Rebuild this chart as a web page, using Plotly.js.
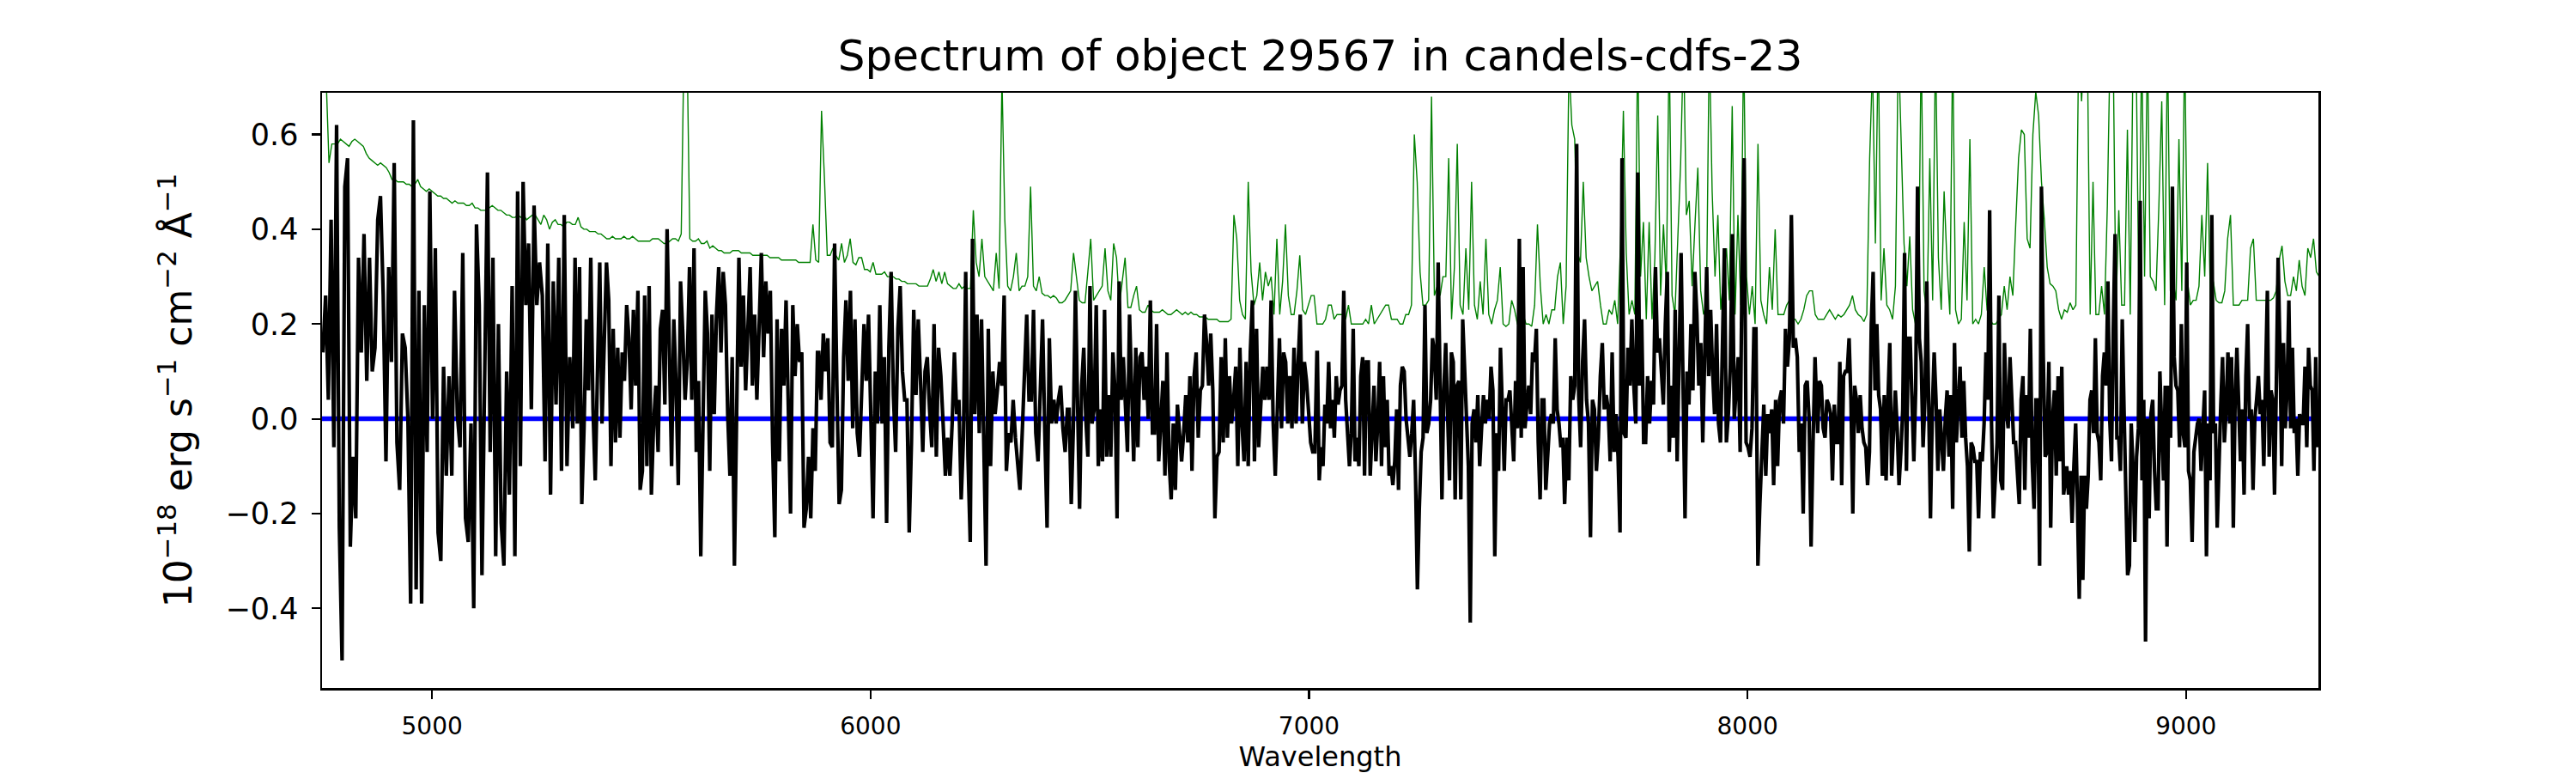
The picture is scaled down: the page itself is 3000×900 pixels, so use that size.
<!DOCTYPE html>
<html>
<head>
<meta charset="utf-8">
<title>Spectrum of object 29567</title>
<script src="https://cdn.plot.ly/plotly-3.0.1.min.js"></script>
<style>
    body { margin: 0; background: #fff; }
    #spectrum { width: 3000px; height: 900px; }
</style>
</head>
<body>
<div id="spectrum"></div>
<script>
// object spectrum in 8 chunks; each chunk spans segStart..segEnd (Angstrom)
var segStart = [4751, 5321, 5882, 6453, 7019, 7588, 8160, 8728];
var segEnd   = [5314, 5879, 6449, 7018, 7583, 8154, 8721, 9300];

var flux1 = [0.14, 0.26, 0.04, 0.42, -0.06, 0.62, -0.23, -0.51, 0.49, 0.55,
    -0.27, -0.08, -0.21, 0.34, 0.14, 0.39, 0.08, 0.34, 0.10, 0.15,
    0.42, 0.47, 0.26, -0.09, 0.32, 0.12, 0.54, -0.05, -0.15, 0.18,
    0.15, 0.00, -0.39, 0.63, -0.36, 0.27, -0.39, 0.24, -0.07, 0.48,
    0.00, 0.36, -0.24, -0.30, 0.11, -0.12, 0.09, -0.12, 0.27, 0.01,
    -0.06, 0.35, -0.21, -0.26, -0.01, -0.40, 0.41, 0.24, -0.33, 0.14,
    0.52, -0.07, 0.34, -0.29, 0.20, -0.22, -0.31, 0.10, -0.16, 0.28,
    -0.29, 0.48, -0.10, 0.50, 0.24, 0.37, 0.02, 0.45, 0.24, 0.33,
    0.26, -0.09, 0.37, -0.16, 0.29, 0.03, 0.34, -0.11, 0.43, -0.10,
    0.13];

var flux2 = [-0.02, 0.34, -0.01, 0.32, -0.18, -0.02, 0.21, 0.06, 0.34, 0.02,
    -0.13, 0.12, 0.33, -0.01, 0.17, 0.33, 0.25, -0.10, 0.19, -0.05,
    0.15, -0.04, 0.14, 0.08, 0.24, 0.17, 0.02, 0.23, 0.07, 0.27,
    -0.15, -0.11, 0.26, -0.10, 0.28, -0.16, -0.01, 0.07, -0.07, 0.19,
    0.23, 0.03, 0.40, 0.10, -0.10, 0.21, 0.07, -0.14, 0.29, 0.18,
    0.04, 0.12, 0.32, 0.04, 0.36, -0.07, 0.08, -0.29, -0.01, 0.27,
    0.18, -0.11, 0.22, 0.01, 0.22, 0.32, 0.14, 0.31, 0.24, 0.01,
    -0.12, 0.13, -0.31, 0.01, 0.34, 0.11, 0.26, 0.06, 0.22, 0.32,
    0.07, 0.22, 0.04, 0.20, 0.35, 0.13, 0.29, 0.18, 0.27, -0.05,
    -0.25, 0.21, -0.09, 0.19, 0.07, 0.25, 0.04, -0.20, 0.24, 0.09,
    0.20, 0.12, 0.14, -0.23, -0.19, -0.08, -0.21, -0.02, -0.11, 0.14];

var flux3 = [0.14, 0.04, 0.18, 0.10, 0.17, -0.05, -0.06, 0.37, 0.07, -0.18,
    -0.15, 0.13, 0.25, 0.08, 0.27, -0.02, 0.21, -0.03, -0.08, 0.09,
    0.20, 0.08, 0.22, 0.01, -0.21, 0.10, -0.01, 0.24, -0.01, 0.13,
    -0.22, 0.15, 0.31, 0.05, -0.07, 0.19, 0.28, 0.10, 0.04, 0.04,
    -0.24, -0.05, 0.23, 0.05, 0.21, 0.08, -0.07, 0.10, 0.13, 0.02,
    -0.06, 0.20, -0.08, 0.15, 0.09, -0.01, -0.12, -0.04, -0.12, -0.01,
    0.14, 0.01, 0.04, -0.17, -0.04, 0.31, -0.08, -0.26, 0.38, 0.01,
    0.22, -0.03, 0.21, -0.05, -0.31, 0.19, -0.10, 0.10, 0.01, 0.06,
    0.12, 0.07, 0.26, -0.11, -0.03, -0.05, 0.04, -0.04, -0.10, -0.15,
    -0.03, 0.12, 0.22, 0.04, 0.04, 0.23, -0.03, -0.09, 0.08, 0.21,
    -0.03, -0.23, 0.17, -0.01, 0.04, -0.01, 0.04, 0.07, -0.02, -0.07,
    0.02];

var flux4 = [0.02, -0.18, -0.02, 0.27, 0.02, -0.19, 0.07, 0.15, 0.00, -0.08,
    0.28, -0.01, 0.02, 0.24, -0.10, 0.02, -0.09, 0.23, -0.08, 0.05,
    -0.08, 0.14, 0.06, -0.21, 0.29, 0.04, 0.13, 0.04, -0.07, 0.22,
    0.04, -0.09, 0.15, -0.06, 0.13, 0.14, 0.04, 0.11, 0.00, 0.25,
    -0.03, -0.03, 0.20, -0.09, -0.01, 0.08, -0.12, 0.14, -0.09, -0.17,
    -0.01, -0.15, 0.03, -0.02, -0.09, -0.03, 0.05, -0.05, 0.09, -0.11,
    0.09, 0.14, -0.04, 0.06, 0.07, 0.22, 0.16, 0.07, 0.18, 0.06,
    -0.21, -0.08, -0.07, 0.13, -0.05, 0.17, -0.04, 0.09, -0.01, 0.04,
    0.11, -0.10, 0.15, -0.01, -0.09, 0.12, -0.10, 0.14, 0.25, -0.09,
    0.19, -0.06, 0.01, 0.11, 0.04, 0.11, 0.04, 0.25, -0.01, -0.12,
    0.02, 0.17, -0.02, 0.14, 0.12, -0.01, 0.09, -0.02, 0.15, -0.01,
    0.12, 0.22, -0.01, 0.12, 0.08, 0.01, -0.05, -0.07, -0.07, 0.14];

var flux5 = [0.14, -0.13, -0.06, -0.10, 0.03, -0.01, 0.12, -0.02, 0.04, -0.04,
    0.09, 0.03, 0.06, 0.07, 0.27, 0.04, -0.02, -0.10, -0.03, 0.19,
    -0.09, -0.04, -0.10, 0.09, 0.13, -0.12, 0.12, 0.12, -0.12, -0.04,
    0.07, -0.09, -0.01, 0.12, -0.10, 0.09, -0.06, 0.04, -0.12, -0.10,
    -0.14, -0.09, 0.02, -0.15, 0.07, 0.11, 0.10, 0.00, -0.04, -0.08,
    -0.03, 0.04, -0.12, -0.36, -0.19, -0.07, -0.04, 0.24, -0.03, -0.01,
    0.04, 0.17, 0.14, 0.04, 0.33, 0.05, -0.17, 0.06, 0.16, 0.01,
    -0.13, 0.14, 0.12, -0.17, 0.07, 0.08, -0.17, 0.21, 0.09, -0.01,
    -0.10, -0.43, -0.01, 0.02, -0.05, 0.05, -0.10, -0.02, 0.05, -0.01,
    0.04, 0.00, 0.11, 0.06, -0.29, -0.03, -0.11, 0.15, 0.03, -0.11,
    0.04, 0.04, 0.06, -0.03, -0.09, 0.08, -0.02, 0.38, -0.04, 0.32,
    -0.02, 0.03, 0.07, 0.01, 0.14, 0.12, 0.19, -0.05, -0.17, 0.04,
    0.04, -0.15, -0.06, -0.01, 0.01, -0.01, 0.17, 0.02, -0.01, -0.06,
    -0.04, -0.18];

var flux6 = [-0.04, -0.13, 0.09, 0.04, 0.07, 0.58, 0.05, -0.06, 0.12, 0.21,
    0.04, -0.01, -0.25, 0.04, 0.02, -0.11, -0.04, 0.09, 0.16, 0.02,
    0.05, 0.02, -0.09, 0.14, -0.07, 0.01, -0.08, -0.24, 0.55, -0.03,
    -0.04, 0.15, 0.07, 0.21, 0.07, -0.01, 0.52, 0.07, 0.21, -0.05,
    -0.05, 0.09, -0.01, 0.08, 0.03, 0.32, 0.14, 0.17, 0.10, 0.03,
    0.20, 0.31, -0.07, 0.07, -0.04, 0.23, -0.09, 0.12, 0.35, 0.07,
    -0.21, 0.10, 0.03, 0.20, 0.06, 0.31, 0.22, 0.07, 0.16, -0.05,
    0.15, 0.32, 0.09, 0.23, 0.10, 0.01, 0.20, -0.01, -0.05, 0.12,
    0.36, -0.05, 0.01, 0.11, 0.39, 0.00, 0.08, 0.13, -0.07, 0.34,
    0.55, -0.05, -0.06, -0.08, -0.02, 0.19, 0.19, -0.31, -0.18, -0.06,
    0.03, -0.12, 0.01, -0.03, 0.02, -0.14, 0.04, -0.10, 0.04, 0.06,
    -0.01, 0.19, 0.11, 0.17, 0.43, 0.15, 0.17, 0.13, -0.07, -0.01,
    -0.20, 0.07, 0.08, 0.00, -0.27, -0.05, 0.13];

var flux7 = [-0.03, 0.08, 0.07, -0.02, -0.04, 0.04, 0.03, 0.01, -0.13, 0.03,
    -0.05, -0.05, 0.12, -0.14, 0.09, 0.10, 0.10, 0.17, 0.04, -0.20,
    0.07, 0.04, -0.03, 0.05, -0.02, -0.05, -0.06, -0.14, -0.07, 0.20,
    0.31, 0.06, 0.20, 0.05, 0.02, -0.12, 0.05, -0.13, 0.04, 0.16,
    -0.12, -0.01, 0.06, -0.02, -0.14, -0.07, 0.02, 0.35, -0.11, 0.17,
    0.17, 0.04, -0.09, 0.06, 0.49, 0.17, 0.12, -0.06, 0.04, 0.29,
    0.00, -0.21, 0.02, 0.14, 0.04, -0.11, 0.02, -0.06, -0.11, 0.00,
    0.06, -0.08, 0.05, -0.19, 0.16, -0.05, 0.04, 0.11, -0.04, 0.08,
    -0.04, -0.10, -0.28, -0.05, -0.06, -0.09, -0.09, -0.21, -0.07, -0.09,
    -0.01, 0.14, 0.04, 0.44, -0.01, -0.21, -0.13, -0.05, 0.26, -0.13,
    -0.15, 0.16, 0.02, -0.02, 0.13, 0.04, -0.05, -0.05, -0.12, -0.18,
    0.04, 0.09, -0.15, 0.05, -0.04, 0.19, -0.09, -0.19, 0.04, 0.04,
    -0.31, 0.49, 0.13, -0.08, -0.07, 0.12, -0.23, 0.00, 0.06, -0.12,
    0.09, -0.09, 0.11, -0.16];

var flux8 = [-0.10, -0.16, -0.11, -0.22, -0.10, -0.01, -0.18, -0.38, -0.12, -0.34,
    -0.12, -0.19, -0.12, 0.04, 0.06, -0.03, 0.17, -0.03, -0.05, -0.13,
    0.09, 0.14, 0.07, 0.29, 0.00, -0.09, 0.19, 0.39, -0.04, -0.04,
    -0.11, 0.21, 0.02, -0.19, -0.33, -0.31, -0.01, -0.10, -0.26, -0.08,
    -0.02, 0.46, -0.13, 0.04, -0.47, 0.00, -0.21, 0.01, 0.04, -0.11,
    -0.19, -0.19, 0.10, -0.02, -0.13, 0.07, -0.27, 0.07, -0.04, 0.49,
    0.13, 0.07, 0.06, -0.06, 0.20, -0.03, -0.06, 0.33, -0.11, -0.13,
    -0.26, -0.07, -0.04, -0.01, 0.00, -0.11, -0.02, 0.06, -0.29, -0.01,
    -0.13, 0.43, -0.03, -0.01, -0.23, -0.06, 0.03, 0.13, -0.05, 0.02,
    0.14, -0.01, 0.13, -0.23, 0.04, 0.15, -0.01, -0.09, 0.02, -0.16,
    0.09, 0.20, 0.00, 0.02, -0.15, 0.00, 0.04, 0.09, 0.01, 0.04,
    -0.10, 0.05, 0.27, -0.08, 0.06, 0.04, -0.16, 0.07, 0.34, 0.15,
    -0.10, 0.16, -0.02, 0.06, 0.25, -0.02, 0.15, -0.03, 0.00, -0.12,
    0.01, -0.01, -0.01, 0.11, -0.06, 0.15, 0.07, 0.06, -0.11, 0.13,
    -0.06];

// green curve (noise / sky), sampled on a regular grid from skyStart every skyStep Angstrom
var skyStart = 4738.8;
var skyStep = 6.531;
var skyFlux = [
    // 4739 - 5301
    0.80, 0.80, 0.78, 0.72, 0.54, 0.58, 0.58, 0.58, 0.59, 0.585,
    0.58, 0.575, 0.585, 0.59, 0.585, 0.58, 0.575, 0.56, 0.55, 0.545,
    0.54, 0.535, 0.54, 0.535, 0.53, 0.52, 0.505, 0.505, 0.50, 0.50,
    0.50, 0.495, 0.495, 0.49, 0.495, 0.505, 0.49, 0.485, 0.48, 0.485,
    0.48, 0.475, 0.47, 0.47, 0.465, 0.465, 0.46, 0.455, 0.46, 0.455,
    0.455, 0.455, 0.45, 0.45, 0.455, 0.445, 0.445, 0.44, 0.44, 0.44,
    0.445, 0.45, 0.445, 0.44, 0.44, 0.435, 0.43, 0.43, 0.425, 0.425,
    0.43, 0.425, 0.43, 0.42, 0.425, 0.43, 0.43, 0.42, 0.41, 0.43,
    0.42, 0.40, 0.415, 0.42, 0.41, 0.41, 0.405,
    // 5307 - 5869
    0.415, 0.415, 0.41, 0.41, 0.425, 0.405, 0.40, 0.40, 0.395, 0.395,
    0.395, 0.39, 0.39, 0.385, 0.38, 0.38, 0.385, 0.38, 0.38, 0.38,
    0.385, 0.38, 0.38, 0.385, 0.38, 0.375, 0.375, 0.375, 0.375, 0.375,
    0.38, 0.38, 0.38, 0.375, 0.37, 0.37, 0.375, 0.38, 0.38, 0.375,
    0.39, 0.80, 0.80, 0.38, 0.375, 0.375, 0.38, 0.37, 0.37, 0.375,
    0.36, 0.365, 0.36, 0.355, 0.355, 0.35, 0.35, 0.35, 0.355, 0.355,
    0.355, 0.35, 0.35, 0.35, 0.35, 0.345, 0.345, 0.345, 0.345, 0.345,
    0.345, 0.34, 0.34, 0.34, 0.34, 0.335, 0.335, 0.335, 0.335, 0.335,
    0.335, 0.33, 0.33, 0.33, 0.33, 0.33, 0.41,
    // 5875 - 6437
    0.335, 0.33, 0.65, 0.51, 0.345, 0.345, 0.36, 0.345, 0.335, 0.37,
    0.33, 0.345, 0.38, 0.33, 0.325, 0.34, 0.34, 0.315, 0.315, 0.31,
    0.33, 0.305, 0.305, 0.305, 0.31, 0.30, 0.30, 0.30, 0.295, 0.295,
    0.29, 0.29, 0.285, 0.285, 0.285, 0.285, 0.28, 0.28, 0.28, 0.28,
    0.295, 0.315, 0.29, 0.31, 0.285, 0.31, 0.285, 0.28, 0.275, 0.275,
    0.285, 0.275, 0.28, 0.275, 0.275, 0.44, 0.33, 0.30, 0.38, 0.30,
    0.29, 0.28, 0.27, 0.35, 0.275, 0.72, 0.42, 0.28, 0.27, 0.30,
    0.35, 0.27, 0.28, 0.28, 0.30, 0.49, 0.28, 0.27, 0.30, 0.265,
    0.26, 0.26, 0.255, 0.26, 0.255, 0.245, 0.245,
    // 6443 - 7005
    0.25, 0.26, 0.27, 0.35, 0.30, 0.25, 0.245, 0.245, 0.31, 0.38,
    0.25, 0.26, 0.27, 0.28, 0.36, 0.27, 0.25, 0.37, 0.34, 0.24,
    0.29, 0.34, 0.235, 0.235, 0.26, 0.28, 0.23, 0.225, 0.225, 0.24,
    0.23, 0.225, 0.225, 0.225, 0.23, 0.225, 0.22, 0.22, 0.225, 0.23,
    0.225, 0.22, 0.225, 0.22, 0.225, 0.22, 0.22, 0.215, 0.215, 0.215,
    0.21, 0.21, 0.21, 0.21, 0.205, 0.205, 0.205, 0.205, 0.21, 0.43,
    0.38, 0.25, 0.22, 0.21, 0.50, 0.31, 0.24, 0.26, 0.33, 0.25,
    0.31, 0.28, 0.30, 0.22, 0.38, 0.22, 0.29, 0.41, 0.26, 0.22,
    0.22, 0.27, 0.345, 0.23, 0.22, 0.24, 0.26,
    // 7012 - 7573
    0.26, 0.20, 0.20, 0.20, 0.21, 0.24, 0.24, 0.21, 0.22, 0.22,
    0.22, 0.21, 0.24, 0.20, 0.20, 0.20, 0.20, 0.20, 0.21, 0.20,
    0.24, 0.20, 0.21, 0.22, 0.23, 0.24, 0.24, 0.21, 0.21, 0.21,
    0.20, 0.20, 0.22, 0.22, 0.24, 0.60, 0.50, 0.31, 0.24, 0.24,
    0.25, 0.68, 0.26, 0.28, 0.26, 0.30, 0.30, 0.55, 0.21, 0.32,
    0.58, 0.24, 0.22, 0.36, 0.23, 0.50, 0.24, 0.21, 0.29, 0.22,
    0.38, 0.22, 0.20, 0.23, 0.25, 0.32, 0.20, 0.195, 0.20, 0.25,
    0.23, 0.20, 0.20, 0.22, 0.20, 0.20, 0.195, 0.24, 0.41, 0.28,
    0.20, 0.22, 0.20, 0.23, 0.23, 0.30, 0.33,
    // 7580 - 8142
    0.20, 0.28, 0.75, 0.62, 0.59, 0.35, 0.33, 0.50, 0.34, 0.30,
    0.27, 0.28, 0.29, 0.24, 0.20, 0.20, 0.23, 0.22, 0.25, 0.20,
    0.37, 0.65, 0.35, 0.22, 0.25, 0.22, 0.80, 0.30, 0.415, 0.21,
    0.415, 0.21, 0.34, 0.64, 0.26, 0.41, 0.28, 0.80, 0.26, 0.22,
    0.385, 0.54, 0.80, 0.43, 0.46, 0.28, 0.41, 0.53, 0.27, 0.22,
    0.24, 0.80, 0.48, 0.30, 0.43, 0.23, 0.30, 0.36, 0.25, 0.66,
    0.22, 0.43, 0.24, 0.80, 0.30, 0.22, 0.28, 0.20, 0.58, 0.25,
    0.22, 0.20, 0.32, 0.23, 0.40, 0.22, 0.22, 0.22, 0.24, 0.25,
    0.21, 0.21, 0.20, 0.21, 0.23, 0.26, 0.27,
    // 8148 - 8710
    0.27, 0.22, 0.21, 0.21, 0.21, 0.22, 0.23, 0.22, 0.21, 0.22,
    0.215, 0.22, 0.23, 0.24, 0.26, 0.23, 0.22, 0.215, 0.205, 0.22,
    0.55, 0.75, 0.37, 0.80, 0.25, 0.36, 0.24, 0.23, 0.21, 0.28,
    0.80, 0.59, 0.37, 0.28, 0.385, 0.23, 0.20, 0.22, 0.80, 0.27,
    0.22, 0.55, 0.25, 0.80, 0.34, 0.23, 0.48, 0.33, 0.22, 0.80,
    0.23, 0.20, 0.21, 0.415, 0.25, 0.59, 0.20, 0.21, 0.20, 0.22,
    0.32, 0.23, 0.21, 0.20, 0.20, 0.21, 0.22, 0.28, 0.23, 0.30,
    0.26, 0.41, 0.55, 0.61, 0.60, 0.38, 0.36, 0.60, 0.69, 0.64,
    0.50, 0.42, 0.32, 0.285, 0.28, 0.27, 0.23,
    // 8716 - 9304
    0.21, 0.23, 0.225, 0.245, 0.23, 0.24, 0.80, 0.67, 0.80, 0.80,
    0.22, 0.50, 0.22, 0.22, 0.28, 0.22, 0.45, 0.80, 0.80, 0.23,
    0.44, 0.24, 0.24, 0.61, 0.22, 0.80, 0.80, 0.25, 0.80, 0.30,
    0.80, 0.30, 0.29, 0.27, 0.45, 0.67, 0.24, 0.80, 0.27, 0.29,
    0.25, 0.59, 0.27, 0.80, 0.29, 0.24, 0.25, 0.25, 0.28, 0.43,
    0.30, 0.54, 0.25, 0.29, 0.25, 0.245, 0.245, 0.27, 0.38, 0.43,
    0.24, 0.24, 0.24, 0.25, 0.25, 0.25, 0.36, 0.38, 0.25, 0.25,
    0.25, 0.25, 0.25, 0.25, 0.255, 0.27, 0.335, 0.365, 0.29, 0.26,
    0.26, 0.30, 0.27, 0.335, 0.28, 0.26, 0.36, 0.34, 0.38, 0.31,
    0.30];

// model / zero level (blue)
var modelWave = [4749, 9302];
var modelFlux = [0, 0];

var xRange = [4749, 9302];
var yRange = [-0.568, 0.688];

function segmentWaves(start, end, n){
    var waves = [];
    for(var i = 0; i < n; i++){
        waves.push(start + (end - start) * i / (n - 1));
    }
    return waves;
}

function objectSpectrum(){
    var chunks = [flux1, flux2, flux3, flux4, flux5, flux6, flux7, flux8];
    var wave = [];
    var flux = [];
    chunks.forEach(function(chunk, k){
        wave = wave.concat(segmentWaves(segStart[k], segEnd[k], chunk.length));
        flux = flux.concat(chunk);
    });
    return [wave, flux];
}

function skyWaves(){
    var waves = [];
    for(var i = 0; i < skyFlux.length; i++){
        waves.push(skyStart + i * skyStep);
    }
    return waves;
}

window.onload = function(){
    var font = "DejaVu Sans, Liberation Sans, sans-serif";
    var [wave, flux] = objectSpectrum();

    var sky = {
        x: skyWaves(),
        y: skyFlux,
        type: 'scatter',
        mode: 'lines',
        line: {color: '#008000', width: 1.4},
        hoverinfo: 'skip'
    };
    var model = {
        x: modelWave,
        y: modelFlux,
        type: 'scatter',
        mode: 'lines',
        line: {color: '#0000ff', width: 5.5},
        hoverinfo: 'skip'
    };
    var spectrum = {
        x: wave,
        y: flux,
        type: 'scatter',
        mode: 'lines',
        line: {color: '#000000', width: 4.2},
        hoverinfo: 'skip'
    };

    var axisCommon = {
        showline: true,
        mirror: true,
        linecolor: '#000',
        linewidth: 2.5,
        ticks: 'outside',
        ticklen: 10,
        tickwidth: 2.2,
        tickcolor: '#000',
        showgrid: false,
        zeroline: false
    };

    var layout = {
        width: 3000,
        height: 900,
        margin: {l: 375, r: 300, t: 108, b: 99},
        paper_bgcolor: '#fff',
        plot_bgcolor: '#fff',
        showlegend: false,
        font: {family: font, color: '#000'},
        title: {
            text: 'Spectrum of object 29567 in candels-cdfs-23',
            font: {family: font, size: 50, color: '#000'},
            x: 0.5, xref: 'paper', xanchor: 'center',
            y: 0.928, yref: 'container', yanchor: 'middle'
        },
        xaxis: Object.assign({}, axisCommon, {
            range: xRange,
            tick0: 5000,
            dtick: 1000,
            tickformat: 'd',
            tickfont: {family: font, size: 28, color: '#000'},
            ticklabelstandoff: 8,
            title: {text: 'Wavelength', font: {family: font, size: 32, color: '#000'}, standoff: 4}
        }),
        yaxis: Object.assign({}, axisCommon, {
            range: yRange,
            tick0: 0,
            dtick: 0.2,
            tickformat: '.1f',
            tickfont: {family: font, size: 35, color: '#000'},
            ticklabelstandoff: 8,
            title: {
                text: '10<sup>\u221218</sup> erg s<sup>\u22121</sup> cm<sup>\u22122</sup> \u00c5<sup>\u22121</sup>',
                font: {family: font, size: 44, color: '#000'},
                standoff: 25
            }
        })
    };

    Plotly.newPlot('spectrum', [sky, model, spectrum], layout, {displayModeBar: false, staticPlot: true});
};
</script>
</body>
</html>
